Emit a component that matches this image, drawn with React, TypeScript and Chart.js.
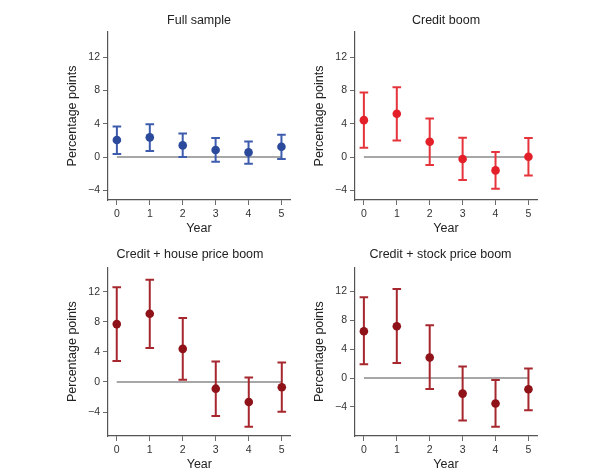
import React, { useEffect, useRef } from "react";
import { Chart, registerables } from "chart.js";
Chart.register(...registerables);

const years = [0, 1, 2, 3, 4, 5];
const yTickValues = [-4, 0, 4, 8, 12];
const panelTitles = ["Full sample", "Credit boom", "Credit + house price boom", "Credit + stock price boom"];
const yAxisTitle = "Percentage points";
const xAxisTitle = "Year";

const fullMean = [2.04, 2.36, 1.4, 0.84, 0.56, 1.24];
const fullLow = [0.36, 0.72, 0.0, -0.56, -0.8, -0.24];
const fullHigh = [3.67, 3.95, 2.83, 2.28, 1.88, 2.67];

const creditMean = [4.43, 5.19, 1.84, -0.24, -1.6, 0.04];
const creditLow = [1.12, 2.0, -0.96, -2.75, -3.79, -2.2];
const creditHigh = [7.74, 8.38, 4.63, 2.32, 0.6, 2.28];

const houseMean = [7.69, 9.07, 4.4, -0.89, -2.67, -0.71];
const houseLow = [2.8, 4.53, 0.31, -4.53, -5.96, -3.96];
const houseHigh = [12.58, 13.6, 8.49, 2.71, 0.58, 2.58];

const stockMean = [6.48, 7.17, 2.85, -2.16, -3.54, -1.56];
const stockLow = [1.89, 2.07, -1.52, -5.89, -6.76, -4.46];
const stockHigh = [11.17, 12.32, 7.31, 1.61, -0.28, 1.33];

const W = 603;
const H = 475;
const Y_W = 50;
const X_H = 36;
const FONT = '"Liberation Sans", Arial, Helvetica, sans-serif';

type PanelCfg = {
  title: string;
  mean: number[];
  low: number[];
  high: number[];
  marker: string;
  bar: string;
  area: { l: number; t: number; r: number; b: number };
  yMin: number;
  yMax: number;
  xMin: number;
  xMax: number;
  titleX: number;
  titleY: number;
};

const panels: PanelCfg[] = [
  {
    title: panelTitles[0], mean: fullMean, low: fullLow, high: fullHigh,
    marker: "#2b4a9c", bar: "#3d5cae",
    area: { l: 108, t: 32, r: 290, b: 200 }, yMin: -5.15, yMax: 15, xMin: -0.27, xMax: 5.26,
    titleX: 199, titleY: 24,
  },
  {
    title: panelTitles[1], mean: creditMean, low: creditLow, high: creditHigh,
    marker: "#e3202a", bar: "#e5343b",
    area: { l: 355, t: 32, r: 537, b: 200 }, yMin: -5.15, yMax: 15, xMin: -0.27, xMax: 5.26,
    titleX: 446, titleY: 24,
  },
  {
    title: panelTitles[2], mean: houseMean, low: houseLow, high: houseHigh,
    marker: "#8e1218", bar: "#a6282e",
    area: { l: 108, t: 267.3, r: 290.7, b: 436 }, yMin: -7.18, yMax: 15.24, xMin: -0.265, xMax: 5.27,
    titleX: 190, titleY: 257.5,
  },
  {
    title: panelTitles[3], mean: stockMean, low: stockLow, high: stockHigh,
    marker: "#8e1218", bar: "#a6282e",
    area: { l: 355, t: 267.3, r: 537, b: 436 }, yMin: -8.03, yMax: 15.33, xMin: -0.27, xMax: 5.26,
    titleX: 440.5, titleY: 257.5,
  },
];

const fmt = (v: any) => {
  const n = Number(v);
  return n < 0 ? "\u2212" + Math.abs(n) : String(n);
};

const errorBarPlugin = {
  id: "errorBars",
  beforeDatasetDraw(chart: any, args: any) {
    const ds = chart.data.datasets[args.index];
    if (!ds.errLow) return;
    const { ctx } = chart;
    const x = chart.scales.x;
    const y = chart.scales.y;
    ctx.save();
    ctx.strokeStyle = ds.barColor;
    ctx.lineWidth = 2;
    ds.data.forEach((p: any, i: number) => {
      const px = x.getPixelForValue(p.x);
      const yl = y.getPixelForValue(ds.errLow[i]);
      const yh = y.getPixelForValue(ds.errHigh[i]);
      ctx.beginPath();
      ctx.moveTo(px, yl);
      ctx.lineTo(px, yh);
      ctx.moveTo(px - 4.3, yl);
      ctx.lineTo(px + 4.3, yl);
      ctx.moveTo(px - 4.3, yh);
      ctx.lineTo(px + 4.3, yh);
      ctx.stroke();
    });
    ctx.restore();
  },
};

const panelTitlePlugin = {
  id: "panelTitle",
  afterDraw(chart: any) {
    const o = chart.options.plugins.panelTitle;
    if (!o) return;
    const { ctx } = chart;
    ctx.save();
    ctx.font = `12.5px ${FONT}`;
    ctx.fillStyle = "#222";
    ctx.textAlign = "center";
    ctx.textBaseline = "alphabetic";
    ctx.fillText(o.text, o.x, o.y);
    ctx.restore();
  },
};

function Panel({ cfg }: { cfg: PanelCfg }) {
  const ref = useRef<HTMLCanvasElement | null>(null);
  useEffect(() => {
    if (!ref.current) return;
    const { l, t, r, b } = cfg.area;
    const axisGrid = {
      display: true,
      drawOnChartArea: false,
      drawTicks: true,
      tickLength: 5,
      color: "#6a6a6a",
      lineWidth: 1,
    };
    const chart = new Chart(ref.current, {
      type: "scatter",
      data: {
        datasets: [
          {
            type: "scatter",
            data: years.map((x, i) => ({ x, y: cfg.mean[i] })),
            pointRadius: 4.3,
            pointHoverRadius: 4.3,
            backgroundColor: cfg.marker,
            borderWidth: 0,
            order: 0,
            errLow: cfg.low,
            errHigh: cfg.high,
            barColor: cfg.bar,
          } as any,
          {
            type: "line",
            data: [
              { x: years[0], y: 0 },
              { x: years[years.length - 1], y: 0 },
            ],
            borderColor: "#8a8a8a",
            borderWidth: 1.6,
            pointRadius: 0,
            showLine: true,
            fill: false,
            order: 2,
          } as any,
        ],
      },
      options: {
        animation: false,
        responsive: false,
        maintainAspectRatio: false,
        events: [],
        layout: {
          padding: { left: l - Y_W, top: t, right: W - r, bottom: H - b - X_H },
        },
        plugins: {
          legend: { display: false },
          tooltip: { enabled: false },
          title: { display: false },
          panelTitle: { text: cfg.title, x: cfg.titleX, y: cfg.titleY },
        } as any,
        scales: {
          x: {
            type: "linear",
            min: cfg.xMin,
            max: cfg.xMax,
            afterFit: (s: any) => { s.height = X_H; },
            afterBuildTicks: (s: any) => { s.ticks = years.map((v) => ({ value: v })); },
            grid: axisGrid,
            border: { display: true, color: "#555", width: 1.2 },
            ticks: { padding: 3, color: "#333", font: { family: FONT, size: 10.5 }, callback: fmt, maxRotation: 0, autoSkip: false },
            title: { display: true, text: xAxisTitle, color: "#222", padding: { top: 0, bottom: 0 }, font: { family: FONT, size: 12.5 } },
          },
          y: {
            type: "linear",
            min: cfg.yMin,
            max: cfg.yMax,
            afterFit: (s: any) => { s.width = Y_W; },
            afterBuildTicks: (s: any) => { s.ticks = yTickValues.map((v) => ({ value: v })); },
            grid: axisGrid,
            border: { display: true, color: "#555", width: 1.2 },
            ticks: { padding: 3, color: "#333", font: { family: FONT, size: 10.5 }, callback: fmt, autoSkip: false },
            title: { display: true, text: yAxisTitle, color: "#222", padding: { top: 7.5, bottom: 0 }, font: { family: FONT, size: 12.5 } },
          },
        },
      } as any,
      plugins: [errorBarPlugin, panelTitlePlugin] as any,
    });
    return () => chart.destroy();
  }, [cfg]);
  return (
    <canvas
      ref={ref}
      width={W}
      height={H}
      style={{ position: "absolute", left: 0, top: 0, width: W, height: H }}
    />
  );
}

export default function App() {
  return (
    <div style={{ position: "absolute", left: 0, top: 0, width: W, height: H, background: "#fff", overflow: "hidden" }}>
      {panels.map((p, i) => (
        <Panel key={i} cfg={p} />
      ))}
    </div>
  );
}
